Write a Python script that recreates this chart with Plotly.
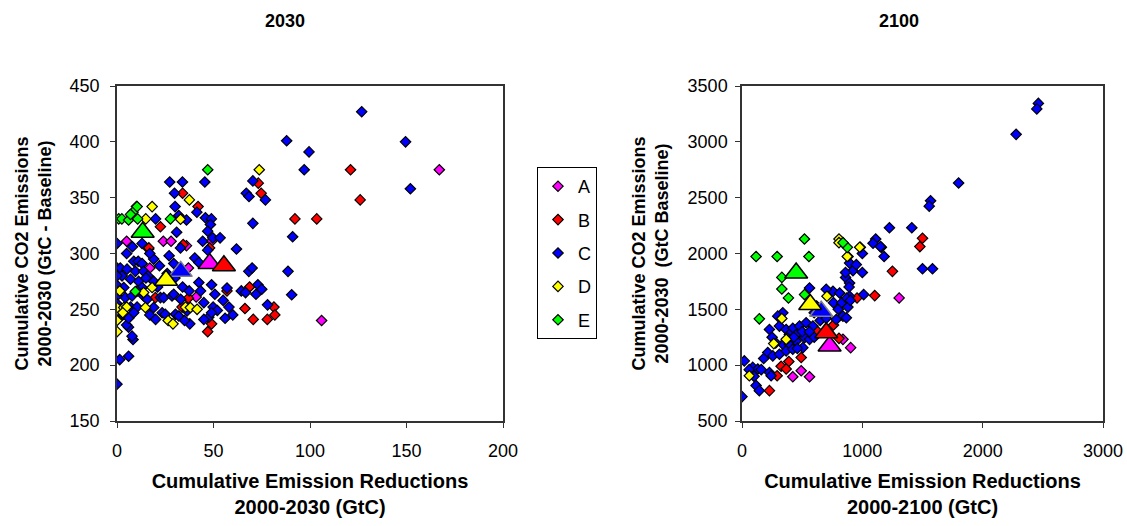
import plotly.graph_objects as go

W, H = 1127, 526

# ---------------- 2030 panel data ----------------
A30_x = [5, 24, 28, 49, 17, 37, 41, 106, 167, 36]
A30_y = [311, 311, 311, 311, 287, 287, 261, 240, 375, 307]
B30_x = [34, 42, 22.5, 16.4, 48, 74.7, 73.2, 19.9, 37, 49, 47, 33.7, 57, 66.3, 70.6, 77.9, 81.3, 81.8, 68.7, 92.2, 103.5, 121, 126, 34.3, 16.5]
B30_y = [354, 342, 324, 304, 305, 354, 363, 260.5, 260, 237, 230, 252, 266.5, 250.7, 241, 241, 252, 245, 270, 331, 331, 375, 348, 308, 305]
C30_x = [0, 1.4, 6, 8.3, 7.8, 6, 5, 0, 27.3, 33.9, 45.5, 70.4, 29.8, 67, 68.4, 76.9, 41.4, 30.1, 10.1,
         20, 45.8, 48.9, 48.4, 70.4, 30.9, 91, 8, 13, 32.9, 44.4, 49.6, 53.4, 61.9,
         87.9, 99.5, 97, 126.8, 149.5, 152,
         37.7, 47.6, 45, 49.8, 52, 58, 60, 72, 73, 64.4, 66.6, 68.3, 70, 88.6, 90.5, 50.7, 49, 42.4, 37.4, 43.3, 40.3, 42.4, 29.4,
         0, 1.7, 5.2, 8.7, 11, 13, 9.5, 13.8, 19, 0, 3.5, 7, 11.2, 13, 4.3, 7.8, 10.4, 13.8, 15.6, 19, 7, 10.4, 8.7, 22.5, 24.2,
         28.5, 33, 23.4, 25, 30.3, 32, 36.3, 29.4, 19, 2.6, 0, 16, 21, 26, 30, 34, 22, 5, 0, 0, 3, 6, 17, 20, 45, 55, 57, 75, 78,
         49, 35, 15, 17, 27, 36, 32, 47, 47, 56]
C30_y = [183, 205, 208, 223, 226, 234, 236, 309, 364, 364, 364, 365, 354, 354, 351, 348, 337, 342, 342,
         331, 332, 331, 326, 327, 319, 315, 306, 309, 305, 311, 314, 314, 304,
         401, 391, 375, 427, 400, 358,
         237, 243, 241, 252, 249, 252, 245, 263.5, 272, 266.5, 265, 284, 287, 284, 263, 263.5, 272, 274, 266.5, 266.5, 296, 292, 291,
         287, 287, 286, 293, 293, 291, 284, 284, 295, 271.6, 269.5, 277, 275, 269.5, 260.5, 262, 266.5, 262, 259, 251.6, 252, 252, 247, 260.5, 260.5,
         262, 259, 247, 245.6, 245.6, 244, 248.6, 263.5, 275, 280, 280, 280, 270, 282, 278, 270, 289, 300, 262, 255, 245, 242, 245, 241, 256, 258, 269, 268, 254,
         247, 240, 278, 300, 298, 330, 334, 320, 303, 242]
D30_x = [0, 0, 0, 1.4, 3.5, 14.7, 13.8, 18.2, 26.5, 29, 35.5, 38, 41.5, 32.9, 18.2, 37.5, 14.9, 73.7, 5, 3]
D30_y = [251.6, 240, 230, 266.5, 251.6, 251.6, 265, 269.5, 240, 237, 252, 251.6, 250, 330.7, 342, 348, 331, 375, 252, 247]
E30_x = [0.9, 2.5, 6, 10.7, 8.3, 10.4, 27.7, 9.5, 47, 7]
E30_y = [331, 331, 330, 331, 337, 342, 331, 266, 375, 335]
MEAN30_x = [48, 55.4, 33, 25.4, 13.3]
MEAN30_y = [291, 289, 284, 276, 319]

# ---------------- 2100 panel data ----------------
A21_x = [1306, 903, 839, 422, 492, 561]
A21_y = [1602, 1157, 1231, 896, 950, 896]
B21_x = [1250, 1103, 956, 1478, 1500, 806, 492, 389, 325, 367, 292, 228, 620, 760]
B21_y = [1840, 1623, 1602, 2062, 2136, 1240, 1068, 1033, 990, 966, 905, 772, 1310, 1360]
C21_x = [1111, 1089, 1158, 1150, 1181, 1225, 1411, 1567, 1556, 2463, 2450, 2278, 1800, 1583, 1500,
         894, 922, 1000, 861, 894, 1011, 894, 756, 811, 561, 839, 867, 783, 339, 297, 228, 311, 367, 422, 478,
         533, 589, 394, 450, 520, 339, 394, 450, 506, 561, 214, 256, 19, 89, 131, 228, 242, 117, 144, 0, 311,
         367, 422, 600, 650, 700, 620, 760, 800, 830, 870, 890, 950, 1000, 700, 500, 560, 460, 280, 250, 180,
         60, 100, 160, 380, 430, 600, 860, 880, 900]
C21_y = [2130, 2092, 2056, 2062, 1973, 2231, 2231, 2472, 2424, 3344, 3295, 3067, 2631, 1863, 1863,
         1914, 1846, 1830, 1786, 1736, 1632, 1617, 1661, 1646, 1691, 1439, 1424, 1409, 1469, 1439, 1320, 1350, 1320, 1330, 1350,
         1380, 1350, 1275, 1275, 1246, 1187, 1187, 1216, 1157, 1231, 1113, 1083, 1038, 980, 966, 935, 905, 817, 772, 718, 1098,
         1128, 1142, 1250, 1400, 1420, 1530, 1560, 1500, 1560, 1600, 1700, 1900, 2000, 1680, 1300, 1300, 1150, 1200, 1250, 1060,
         960, 900, 960, 1240, 1250, 1470, 1830, 1520, 1580]
D21_x = [881, 983, 706, 331, 367, 264, 61, 806, 806, 875, 978]
D21_y = [1973, 2056, 1617, 1418, 1231, 1193, 905, 2130, 2097, 1973, 2056]
E21_x = [117, 292, 556, 519, 331, 331, 386, 144, 875, 839, 520]
E21_y = [1973, 1973, 1973, 2130, 1786, 1682, 1602, 1415, 2055, 2097, 1632]
MEAN21_x = [728, 700, 658, 567, 450]
MEAN21_y = [1172, 1290, 1483, 1543, 1825]

NAMES = ["A", "B", "C", "D", "E"]
COLORS = ["#FF00FF", "#FF0000", "#0000FF", "#FFFF00", "#00FF00"]
TRI_LINE = ["black", "black", "#808080", "black", "black"]

FONT = "Liberation Sans, Arial, sans-serif"

fig = go.Figure()

sets30 = [(A30_x, A30_y), (B30_x, B30_y), (C30_x, C30_y), (D30_x, D30_y), (E30_x, E30_y)]
sets21 = [(A21_x, A21_y), (B21_x, B21_y), (C21_x, C21_y), (D21_x, D21_y), (E21_x, E21_y)]

DIA = dict(symbol="diamond", size=8)
for i, (xs, ys) in enumerate(sets30):
    fig.add_trace(go.Scatter(x=xs, y=ys, mode="markers", name=NAMES[i], legendgroup=NAMES[i],
                             marker=dict(DIA, color=COLORS[i], line=dict(color="black", width=1.2)),
                             xaxis="x", yaxis="y", showlegend=True))
for i, (xs, ys) in enumerate(sets21):
    fig.add_trace(go.Scatter(x=xs, y=ys, mode="markers", name=NAMES[i], legendgroup=NAMES[i],
                             marker=dict(DIA, color=COLORS[i], line=dict(color="black", width=1.2)),
                             xaxis="x2", yaxis="y2", showlegend=False))
for i in range(5):
    fig.add_trace(go.Scatter(x=[MEAN30_x[i]], y=[MEAN30_y[i]], mode="markers", name=NAMES[i] + " mean",
                             legendgroup=NAMES[i], showlegend=False,
                             marker=dict(symbol="triangle-up", size=20, color=COLORS[i],
                                         line=dict(color=TRI_LINE[i], width=1.5)),
                             xaxis="x", yaxis="y"))
    fig.add_trace(go.Scatter(x=[MEAN21_x[i]], y=[MEAN21_y[i]], mode="markers", name=NAMES[i] + " mean",
                             legendgroup=NAMES[i], showlegend=False,
                             marker=dict(symbol="triangle-up", size=20, color=COLORS[i],
                                         line=dict(color=TRI_LINE[i], width=1.5)),
                             xaxis="x2", yaxis="y2"))

axis_common = dict(showgrid=False, zeroline=False, showline=True, mirror=True,
                   linecolor="#333333", linewidth=1.5, ticks="outside", ticklen=5,
                   tickcolor="#333333", tickfont=dict(family=FONT, size=18, color="black"),
                   automargin=False)
xtitle_font = dict(family=FONT, size=20, color="black")
ytitle_font = dict(family=FONT, size=18, color="black")

ydom = [1 - 421 / H, 1 - 86 / H]
fig.update_layout(
    width=W, height=H,
    margin=dict(l=0, r=0, t=0, b=0),
    paper_bgcolor="white", plot_bgcolor="white",
    font=dict(family=FONT, color="black"),
    xaxis=dict(axis_common, domain=[117 / W, 503 / W], range=[0, 200], dtick=50, ticklabelstandoff=8,
               title=dict(text="<b>Cumulative Emission Reductions<br>2000-2030 (GtC)</b>", font=xtitle_font, standoff=14)),
    yaxis=dict(axis_common, domain=ydom, range=[150, 450], dtick=50, ticklabelstandoff=7,
               title=dict(text="<b>Cumulative CO2 Emissions<br>2000-2030 (GtC - Baseline)</b>", font=ytitle_font, standoff=13)),
    xaxis2=dict(axis_common, domain=[742 / W, 1103 / W], range=[0, 3000], dtick=1000, anchor="y2", ticklabelstandoff=8,
                title=dict(text="<b>Cumulative Emission Reductions<br>2000-2100 (GtC)</b>", font=xtitle_font, standoff=14)),
    yaxis2=dict(axis_common, domain=ydom, range=[500, 3500], dtick=500, anchor="x2", ticklabelstandoff=4,
                title=dict(text="<b>Cumulative CO2 Emissions<br>2000-2030  (GtC Baseline)</b>", font=ytitle_font, standoff=14)),
    legend=dict(x=537 / W, y=1 - 167 / H, xanchor="left", yanchor="top",
                bordercolor="black", borderwidth=1, bgcolor="white",
                font=dict(family=FONT, size=18, color="black"),
                tracegroupgap=7, itemwidth=30),
    annotations=[
        dict(text="<b>2030</b>", x=285 / W, y=1 - 21 / H, xref="paper", yref="paper",
             xanchor="center", yanchor="middle",
             showarrow=False, font=dict(family=FONT, size=18, color="black")),
        dict(text="<b>2100</b>", x=899 / W, y=1 - 21 / H, xref="paper", yref="paper",
             xanchor="center", yanchor="middle",
             showarrow=False, font=dict(family=FONT, size=18, color="black")),
    ],
)

fig.write_html("out.html")
